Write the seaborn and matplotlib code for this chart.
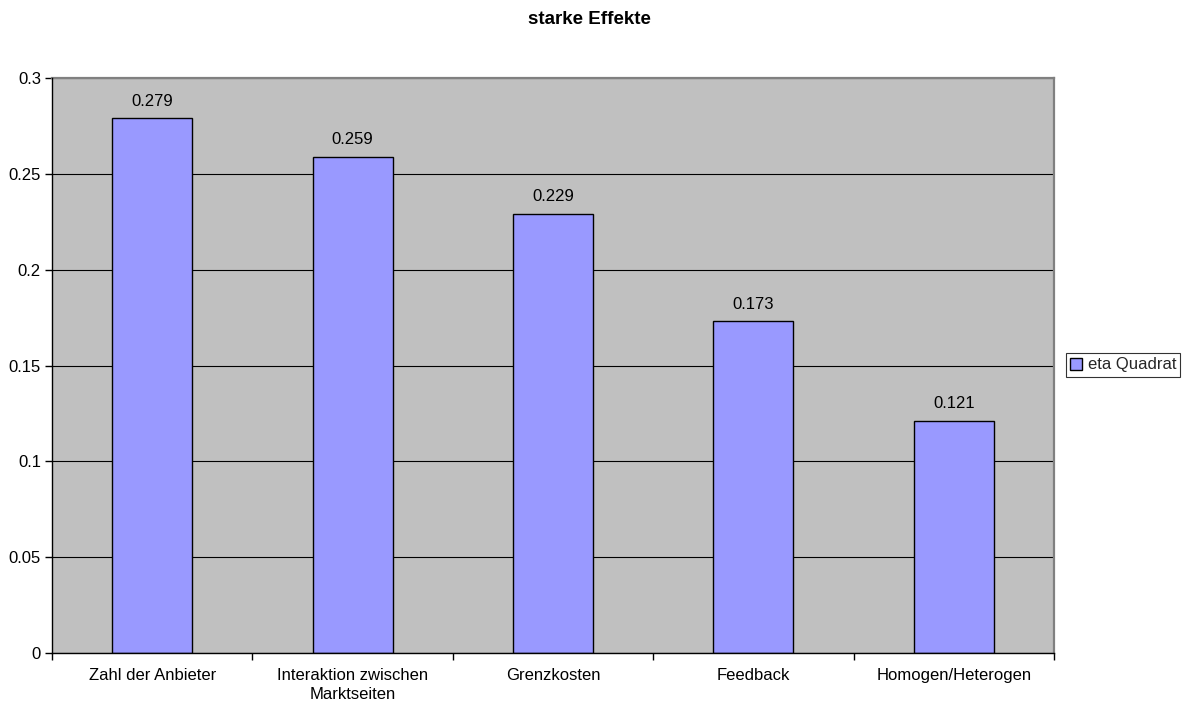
import matplotlib
matplotlib.use("Agg")
import matplotlib.pyplot as plt
import seaborn as sns
import pandas as pd
import numpy as np
from matplotlib.patches import Patch

categories = ["Zahl der Anbieter", "Interaktion zwischen\nMarktseiten", "Grenzkosten", "Feedback", "Homogen/Heterogen"]
values = [0.279, 0.259, 0.229, 0.173, 0.121]
series_name = "eta Quadrat"
title = "starke Effekte"

sns.set_theme(style="white")
plt.rcParams['font.family'] = ['Liberation Sans', 'DejaVu Sans']

df = pd.DataFrame({"cat": categories, "val": values})

fig = plt.figure(figsize=(11.84, 7.04), dpi=100)
ax = fig.add_axes([52/1184, 51/704, (1054-52)/1184, (653-78)/704])
ax.set_facecolor("#C0C0C0")

sns.barplot(data=df, x="cat", y="val", color="#9999FF", width=0.4,
            edgecolor="black", linewidth=1, saturation=1, ax=ax, zorder=3)

ax.set_ylim(0, 0.3)
ax.set_xlim(-0.5, len(categories) - 0.5)
ax.set_yticks(np.arange(0, 0.31, 0.05))
ax.set_yticklabels(["0", "0.05", "0.1", "0.15", "0.2", "0.25", "0.3"])
ax.yaxis.grid(True, color="black", linewidth=0.8, zorder=1)
ax.set_axisbelow(True)
ax.set_xlabel("")
ax.set_ylabel("")

ax.set_xticks(np.arange(len(categories)))
ax.set_xticklabels(categories, linespacing=1.35)
ax.tick_params(axis="x", length=0, labelsize=12, pad=11, colors="black")
ax.set_xticks(np.arange(-0.5, len(categories) + 0.5, 1), minor=True)
ax.tick_params(axis="x", which="minor", length=5, width=1, direction="out", color="black", bottom=True)
ax.tick_params(axis="y", length=5, width=1, direction="out", labelsize=12, colors="black", left=True, pad=3)

for s in ["top", "right"]:
    ax.spines[s].set_color("#808080")
    ax.spines[s].set_linewidth(1.6)
for s in ["left", "bottom"]:
    ax.spines[s].set_color("black")
    ax.spines[s].set_linewidth(1)
    ax.spines[s].set_zorder(5)

for c in ax.containers:
    ax.bar_label(c, labels=[f"{v:.3f}" for v in values], padding=7, fontsize=12, color="black")

fig.text(589/1184, 1 - 20/704, title, ha="center", va="center", fontsize=13.5, fontweight="bold", color="black")

handle = Patch(facecolor="#9999FF", edgecolor="black", linewidth=1)
leg = fig.legend([handle], [series_name], loc="center left", bbox_to_anchor=(1066/1184, 1 - 365/704),
                 frameon=True, fancybox=False, edgecolor="black", fontsize=12,
                 handlelength=0.7, handleheight=0.7, handletextpad=0.35, borderpad=0.25,
                 borderaxespad=0)
leg.get_frame().set_linewidth(0.8)

fig.savefig("out.png", dpi=100, facecolor="white")
